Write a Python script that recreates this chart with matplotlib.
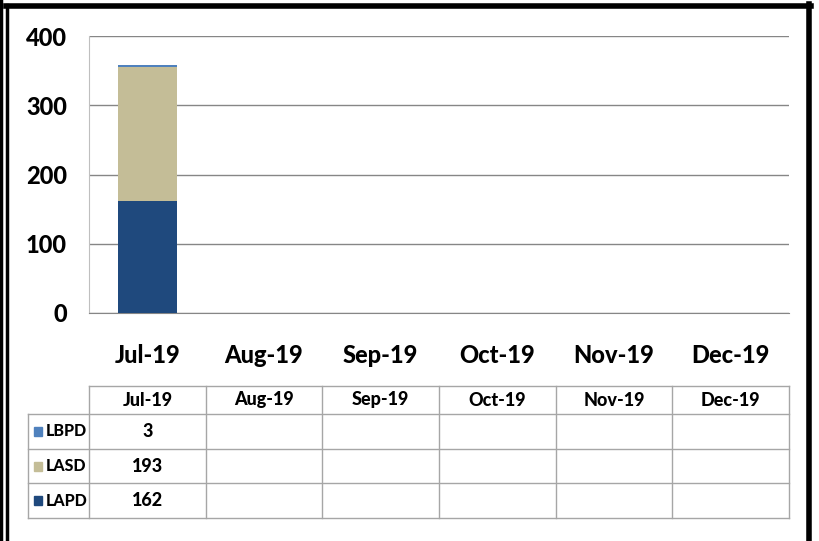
import numpy as np
import matplotlib
matplotlib.use("Agg")
import matplotlib.pyplot as plt
from matplotlib.patches import Rectangle
from matplotlib.lines import Line2D

months = ["Jul-19", "Aug-19", "Sep-19", "Oct-19", "Nov-19", "Dec-19"]
lapd = [162, None, None, None, None, None]
lasd = [193, None, None, None, None, None]
lbpd = [3, None, None, None, None, None]
y_ticks = [0, 100, 200, 300, 400]

series = [("LAPD", lapd, "#1F497D"), ("LASD", lasd, "#C4BD97"), ("LBPD", lbpd, "#4F81BD")]

plt.rcParams["font.family"] = ["Lato", "DejaVu Sans"]
WT = "black"

W, H = 820, 541
fig = plt.figure(figsize=(W / 100, H / 100), dpi=100)


def fig_box(x0, y0, x1, y1):
    # pixel box (top-left origin) -> figure fraction
    return [x0 / W, 1 - y1 / H, (x1 - x0) / W, (y1 - y0) / H]


ax = fig.add_axes(fig_box(89, 36, 789, 313))
x = np.arange(len(months))
bottom = np.zeros(len(months))
for name, vals, color in series:
    v = np.array([0 if a is None else a for a in vals], dtype=float)
    ax.bar(x, v, bottom=bottom, width=0.51, color=color, zorder=3)
    bottom += v

ax.set_xlim(-0.5, len(months) - 0.5)
ax.set_ylim(0, 400)
ax.set_yticks(y_ticks)
ax.set_yticklabels([str(t) for t in y_ticks], fontsize=17, fontweight=WT)
ax.set_xticks(x)
ax.set_xticklabels(months, fontsize=17, fontweight=WT)
ax.tick_params(axis="y", length=0, pad=16)
ax.tick_params(axis="x", length=0, pad=22)
ax.grid(axis="y", color="#868686", linewidth=1, zorder=0)
for s in ["top", "right"]:
    ax.spines[s].set_visible(False)
ax.spines["left"].set_color("#BFBFBF")
ax.spines["bottom"].set_color("#868686")

# data table below the chart
tab = fig.add_axes(fig_box(28, 386, 789, 518))
tab.set_xlim(28, 789)
tab.set_ylim(518, 386)
tab.axis("off")
grid_c = "#A6A6A6"
col_edges = [89 + i * 700 / len(months) for i in range(len(months) + 1)]
row_edges = [386, 414, 449, 483, 518]


def tline(xs, ys):
    tab.add_line(Line2D(xs, ys, color=grid_c, lw=1, clip_on=False))


# header row only spans the category columns
tline([89, 789], [386, 386])
for yy in row_edges[1:]:
    tline([28, 789], [yy, yy])
for xx in col_edges:
    tline([xx, xx], [386, 518])
tline([28, 28], [414, 518])

for i, m in enumerate(months):
    cx = (col_edges[i] + col_edges[i + 1]) / 2
    tab.text(cx, 400, m, ha="center", va="center", fontsize=13, fontweight=WT)

for r, (name, vals, color) in enumerate(reversed(series)):
    y0, y1 = row_edges[r + 1], row_edges[r + 2]
    cy = (y0 + y1) / 2
    tab.add_patch(Rectangle((34, cy - 4.5), 8, 9, color=color))
    tab.text(46, cy, name, ha="left", va="center", fontsize=11.5, fontweight=WT)
    for i, v in enumerate(vals):
        if v is not None:
            cx = (col_edges[i] + col_edges[i + 1]) / 2
            tab.text(cx, cy, str(v), ha="center", va="center", fontsize=13, fontweight=WT)

# outer frame
frame = fig.add_axes([0, 0, 1, 1])
frame.set_xlim(0, W)
frame.set_ylim(H, 0)
frame.axis("off")
frame.add_line(Line2D([1.5, 1.5], [0, H], color="black", lw=2.5))
frame.add_line(Line2D([7.5, 7.5], [5, H], color="black", lw=2.5))
frame.add_line(Line2D([6, 811], [5.5, 5.5], color="black", lw=4))
frame.add_line(Line2D([809.5, 809.5], [4, H], color="black", lw=4))

fig.savefig("out.png", dpi=100)
